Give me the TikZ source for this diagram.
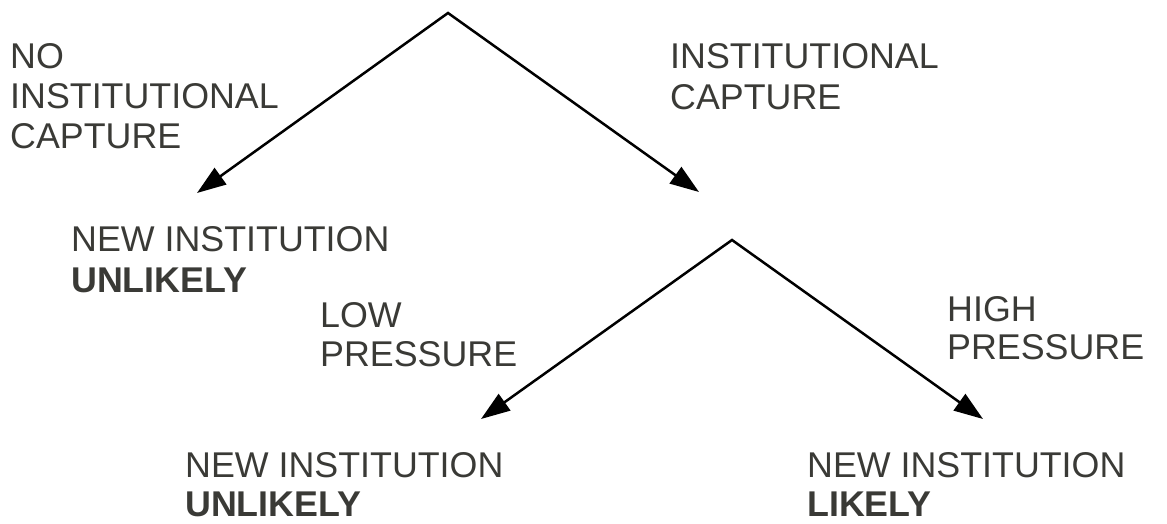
\documentclass[tikz,border=0pt]{standalone}
\usepackage{fontspec}
\setmainfont{Liberation Sans}
\usetikzlibrary{arrows.meta}
\definecolor{txt}{RGB}{58,58,54}
\begin{document}
\begin{tikzpicture}[x=1pt,y=-1pt,
  lbl/.style={anchor=base west,inner sep=0pt,text=txt,font=\fontsize{35.8}{40}\selectfont},
  blbl/.style={lbl,font=\fontsize{35.8}{40}\selectfont\bfseries},
  arr/.style={line width=2.5pt,line join=miter,{Triangle[length=29pt,width=20pt]}-{Triangle[length=29pt,width=20pt]}}]
\useasboundingbox (0,0) rectangle (1167,524);
% branch points and arrow ends
\coordinate (root) at (448,13);
\coordinate (noCap) at (197,193);
\coordinate (cap) at (699,192);
\coordinate (split) at (732,240);
\coordinate (low) at (481,419);
\coordinate (high) at (983,419);
\draw[arr] (noCap) -- (root) -- (cap);
\draw[arr] (low) -- (split) -- (high);
% labels
\node[lbl] (t1a) at (10,69) {NO};
\node[lbl] (t1b) at (10,109) {INSTITUTIONAL};
\node[lbl] (t1c) at (10,149) {CAPTURE};
\node[lbl] (t2a) at (670,69) {INSTITUTIONAL};
\node[lbl] (t2b) at (670,110) {CAPTURE};
\node[lbl] (t3a) at (71,251) {NEW INSTITUTION};
\node[blbl] (t3b) at (71,292) {UNLIKELY};
\node[lbl] (t4a) at (320,327) {LOW};
\node[lbl] (t4b) at (320,366) {PRESSURE};
\node[lbl] (t5a) at (947,321) {HIGH};
\node[lbl] (t5b) at (947,359) {PRESSURE};
\node[lbl] (t6a) at (185,477) {NEW INSTITUTION};
\node[blbl] (t6b) at (185,516) {UNLIKELY};
\node[lbl] (t7a) at (807,477) {NEW INSTITUTION};
\node[blbl] (t7b) at (807,516) {LIKELY};
\end{tikzpicture}
\end{document}
